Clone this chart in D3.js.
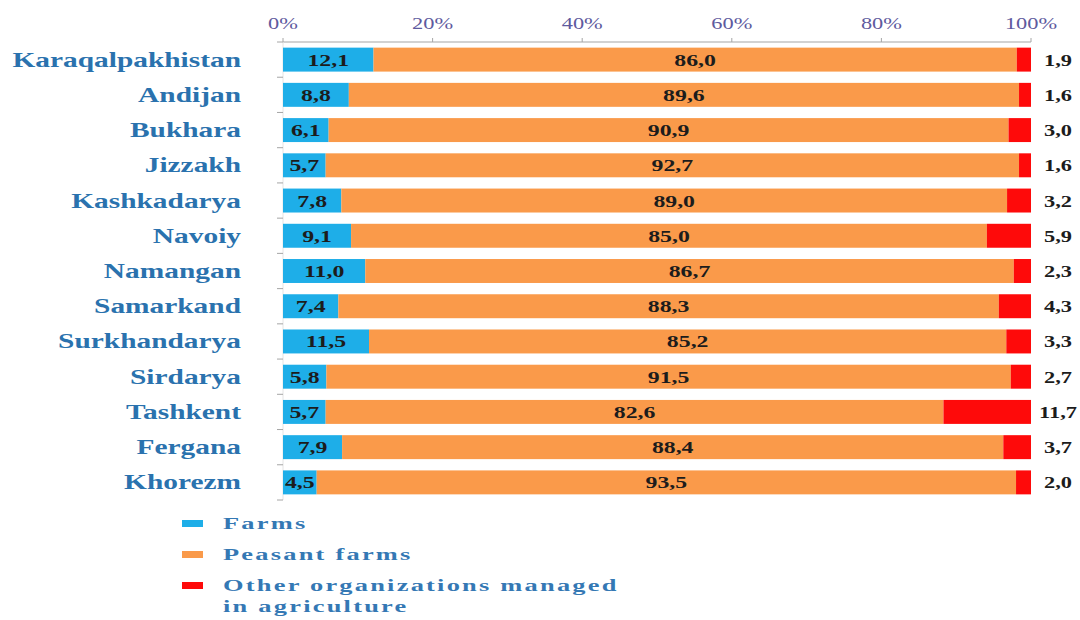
<!DOCTYPE html>
<html>
<head>
<meta charset="utf-8">
<script src="https://cdn.jsdelivr.net/npm/d3@7"></script>
<style>
  html, body { margin: 0; padding: 0; background: #fff; }
  svg { display: block; }
</style>
</head>
<body>
<div id="chart"></div>
<script>
const regions = ['Karaqalpakhistan', 'Andijan', 'Bukhara', 'Jizzakh', 'Kashkadarya', 'Navoiy', 'Namangan',
    'Samarkand', 'Surkhandarya', 'Sirdarya', 'Tashkent', 'Fergana', 'Khorezm'];
const farms = [12.1, 8.8, 6.1, 5.7, 7.8, 9.1, 11.0, 7.4, 11.5, 5.8, 5.7, 7.9, 4.5];
const peasant = [86.0, 89.6, 90.9, 92.7, 89.0, 85.0, 86.7, 88.3, 85.2, 91.5, 82.6, 88.4, 93.5];
const other = [1.9, 1.6, 3.0, 1.6, 3.2, 5.9, 2.3, 4.3, 3.3, 2.7, 11.7, 3.7, 2.0];
const xTicks = [0, 20, 40, 60, 80, 100];
const legendLabels = [['Farms'], ['Peasant farms'], ['Other organizations managed', 'in agriculture']];

const keys = ['farms', 'peasant', 'other'];
const colors = { farms: '#1eaee8', peasant: '#fa9a4a', other: '#fe0a0a' };
const rows = regions.map((r, i) => ({ region: r, farms: farms[i], peasant: peasant[i], other: other[i] }));

const W = 1080, H = 620;
const sx = 1.4; // the source picture is stretched sideways
const fmt = v => d3.format('.1f')(v).replace('.', ',');
const serif = '"Liberation Serif", "Times New Roman", serif';

const svg = d3.select('#chart').append('svg').attr('width', W).attr('height', H);

const x = d3.scaleLinear().domain([0, 100]).range([283, 1031]);
const y = d3.scaleBand().domain(regions).range([42, 500]).paddingInner(0.32).paddingOuter(0.16);
const step = y.step();

// top axis
svg.append('line').attr('x1', x(0)).attr('x2', x(100)).attr('y1', 42).attr('y2', 42)
    .style('stroke', '#a6a6a6').style('stroke-width', 1.2);
svg.selectAll('.xtick').data(xTicks).enter().append('line').attr('class', 'xtick')
    .attr('x1', d => x(d)).attr('x2', d => x(d)).attr('y1', 38).attr('y2', 42)
    .style('stroke', '#a6a6a6');
svg.selectAll('.xlab').data(xTicks).enter().append('text').attr('class', 'xlab')
    .attr('transform', d => `translate(${x(d)},29) scale(${sx},1)`)
    .attr('text-anchor', 'middle')
    .style('font-family', serif).style('font-size', '16px').style('fill', '#5e5a9e')
    .text(d => d + '%');

// left axis
svg.append('line').attr('x1', x(0)).attr('x2', x(0)).attr('y1', 42).attr('y2', 500)
    .style('stroke', '#e4e4e4');
svg.selectAll('.ytick').data(d3.range(regions.length + 1)).enter().append('line').attr('class', 'ytick')
    .attr('x1', x(0) - 6).attr('x2', x(0)).attr('y1', i => 42 + i * step).attr('y2', i => 42 + i * step)
    .style('stroke', '#a6a6a6');
svg.selectAll('.ylab').data(regions).enter().append('text').attr('class', 'ylab')
    .attr('transform', d => `translate(241,${y(d) + y.bandwidth() / 2 + 7}) scale(${sx},1)`)
    .attr('text-anchor', 'end')
    .style('font-family', serif).style('font-size', '21px').style('font-weight', 'bold').style('fill', '#2a72ae')
    .text(d => d);

// stacked bars
const stack = d3.stack().keys(keys)(rows);
const layers = svg.selectAll('.layer').data(stack).enter().append('g').attr('class', 'layer')
    .style('fill', d => colors[d.key]);
layers.selectAll('rect').data(d => d).enter().append('rect')
    .attr('x', d => x(d[0])).attr('width', d => x(d[1]) - x(d[0]))
    .attr('y', d => y(d.data.region)).attr('height', y.bandwidth());

// labels inside farms and peasant segments
stack.slice(0, 2).forEach(s => {
    svg.selectAll('.lab-' + s.key).data(s).enter().append('text').attr('class', 'lab-' + s.key)
        .attr('transform', d => `translate(${(x(d[0]) + x(d[1])) / 2},${y(d.data.region) + y.bandwidth() / 2 + 6}) scale(${sx},1)`)
        .attr('text-anchor', 'middle')
        .style('font-family', serif).style('font-size', '17px').style('font-weight', 'bold').style('fill', '#1c1c1c')
        .text(d => fmt(d.data[s.key]));
});
// other labels outside the bar end
svg.selectAll('.lab-other').data(rows).enter().append('text').attr('class', 'lab-other')
    .attr('transform', d => `translate(${x(100) + 27},${y(d.region) + y.bandwidth() / 2 + 6}) scale(${sx},1)`)
    .attr('text-anchor', 'middle')
    .style('font-family', serif).style('font-size', '16px').style('font-weight', 'bold').style('fill', '#1c1c1c')
    .text(d => fmt(d.other));

// legend
const legend = svg.selectAll('.leg').data(keys).enter().append('g').attr('class', 'leg')
    .attr('transform', (d, i) => `translate(182,${520 + i * 31})`);
legend.append('rect').attr('width', 21).attr('height', 7).style('fill', d => colors[d]);
legend.each(function(d, i) {
    const g = d3.select(this);
    legendLabels[i].forEach((line, j) => {
        g.append('text')
            .attr('transform', `translate(41,${9 + j * 21}) scale(1.6,1)`)
            .style('font-family', serif).style('font-size', '16.5px').style('font-weight', 'bold')
            .style('letter-spacing', '1.4px').style('fill', '#3478b4')
            .text(line);
    });
});
</script>
</body>
</html>
